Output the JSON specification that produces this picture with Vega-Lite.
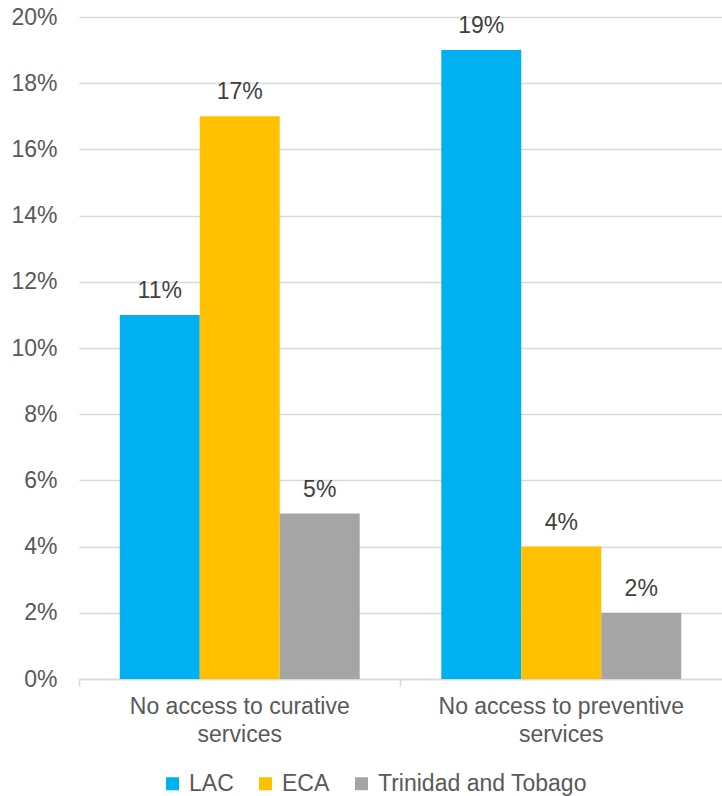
{
  "$schema": "https://vega.github.io/schema/vega-lite/v6.json",
  "autosize": "none",
  "width": 643,
  "height": 662,
  "padding": {"left": 79, "top": 17, "right": 0, "bottom": 117},
  "background": "white",
  "config": {
    "view": {"stroke": null},
    "font": "Liberation Sans",
    "axis": {"labelFont": "Liberation Sans", "labelColor": "#595959", "labelFontSize": 23, "labelLimit": 0}
  },
  "data": {
    "values": [
      {"category": "No access to curative services", "group": "LAC", "value": 0.11},
      {"category": "No access to curative services", "group": "ECA", "value": 0.17},
      {"category": "No access to curative services", "group": "Trinidad and Tobago", "value": 0.05},
      {"category": "No access to preventive services", "group": "LAC", "value": 0.19},
      {"category": "No access to preventive services", "group": "ECA", "value": 0.04},
      {"category": "No access to preventive services", "group": "Trinidad and Tobago", "value": 0.02}
    ]
  },
  "encoding": {
    "x": {
      "field": "category", "type": "nominal",
      "scale": {"paddingInner": 0, "paddingOuter": 0},
      "axis": {
        "title": null, "labelAngle": 0, "domainColor": "#d9d9d9", "domainWidth": 1.5,
        "tickColor": "#d9d9d9", "tickWidth": 1.5, "tickSize": 7, "bandPosition": 0,
        "labelPadding": 9, "labelLineHeight": 28, "labelBaseline": "top",
        "labelExpr": "[slice(datum.value, 0, lastindexof(datum.value, ' ')), slice(datum.value, lastindexof(datum.value, ' ') + 1)]"
      }
    },
    "xOffset": {
      "field": "group", "type": "nominal",
      "sort": ["LAC", "ECA", "Trinidad and Tobago"],
      "scale": {"paddingInner": 0, "paddingOuter": 0.51}
    },
    "y": {
      "field": "value", "type": "quantitative",
      "scale": {"domain": [0, 0.2], "nice": false},
      "axis": {
        "title": null, "format": ".0%", "values": [0, 0.02, 0.04, 0.06, 0.08, 0.1, 0.12, 0.14, 0.16, 0.18, 0.2],
        "domain": false, "ticks": false, "labelPadding": 22,
        "gridColor": "#d9d9d9", "gridWidth": 1.5
      }
    }
  },
  "layer": [
    {
      "mark": {"type": "bar"},
      "encoding": {
        "color": {
          "field": "group", "type": "nominal",
          "sort": ["LAC", "ECA", "Trinidad and Tobago"],
          "scale": {"domain": ["LAC", "ECA", "Trinidad and Tobago"], "range": ["#00b0f0", "#ffc000", "#a5a5a5"]},
          "legend": {
            "title": null, "orient": "none", "direction": "horizontal",
            "legendX": 82, "legendY": 755, "padding": 0,
            "symbolType": "square", "symbolSize": 169, "symbolStrokeWidth": 0,
            "labelFontSize": 23, "labelColor": "#595959", "labelFont": "Liberation Sans", "labelLimit": 0,
            "labelOffset": 5, "columnPadding": 20
          }
        }
      }
    },
    {
      "mark": {"type": "text", "baseline": "alphabetic", "dy": -17, "fontSize": 23, "color": "#404040", "font": "Liberation Sans"},
      "encoding": {
        "text": {"field": "value", "type": "quantitative", "format": ".0%"}
      }
    }
  ]
}
